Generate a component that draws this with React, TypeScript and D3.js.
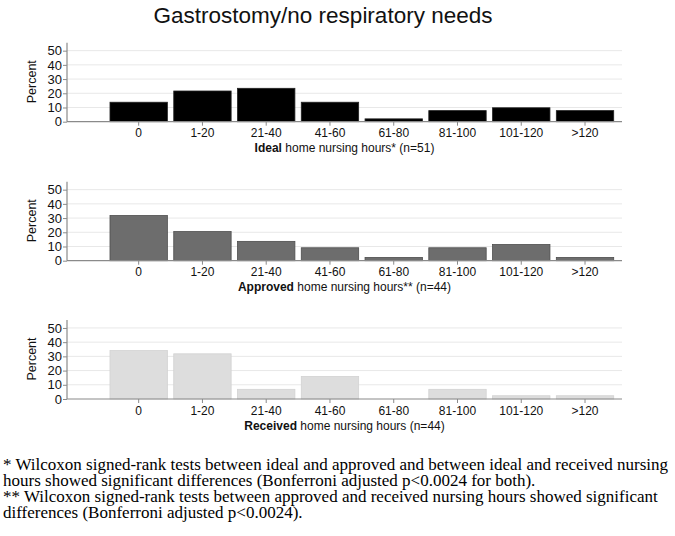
import { useEffect, useRef } from 'react'
import * as d3 from 'd3'

const categories = ['0', '1-20', '21-40', '41-60', '61-80', '81-100', '101-120', '>120']
const idealPct = [13.7, 21.6, 23.5, 13.7, 2.0, 7.8, 9.8, 7.8]
const approvedPct = [31.8, 20.5, 13.6, 9.1, 2.3, 9.1, 11.4, 2.3]
const receivedPct = [34.1, 31.8, 6.8, 15.9, 0, 6.8, 2.3, 2.3]
const yTicks = [0, 10, 20, 30, 40, 50]

const panelTitles = [
  { bold: 'Ideal', rest: ' home nursing hours* (n=51)' },
  { bold: 'Approved', rest: ' home nursing hours** (n=44)' },
  { bold: 'Received', rest: ' home nursing hours (n=44)' },
]
const footnotes = [
  '* Wilcoxon signed-rank tests between ideal and approved and between ideal and received nursing',
  'hours showed significant differences (Bonferroni adjusted p<0.0024 for both).',
  '** Wilcoxon signed-rank tests between approved and received nursing hours showed significant',
  'differences (Bonferroni adjusted p<0.0024).',
]

export default function App() {
  const svgRef = useRef<SVGSVGElement>(null)

  useEffect(() => {
    if (!svgRef.current) return
    const svg = d3.select(svgRef.current)
    svg.selectAll('*').remove()

    const width = 675
    const height = 536
    const axisLeft = 67
    const axisRight = 622
    const plotH = 79
    const zeros = [121.7, 260.7, 399]
    const sans = '"Liberation Sans", Arial, sans-serif'

    svg.append('rect').attr('width', width).attr('height', height).attr('fill', '#fff')

    svg.append('text')
      .attr('x', 323)
      .attr('y', 23)
      .attr('text-anchor', 'middle')
      .attr('font-family', sans)
      .attr('font-size', 22.5)
      .attr('fill', '#111')
      .text('Gastrostomy/no respiratory needs')

    const x = d3.scaleBand<string>()
      .domain(categories)
      .range([106.8, 616.9])
      .paddingInner(0.1)
      .paddingOuter(0.05)

    const panels = [
      { values: idealPct, fill: '#000000', stroke: '#222222' },
      { values: approvedPct, fill: '#6d6d6d', stroke: '#4e4e4e' },
      { values: receivedPct, fill: '#dddddd', stroke: '#d2d2d2' },
    ]

    panels.forEach((p, pi) => {
      const zero = zeros[pi]
      const y = d3.scaleLinear().domain([0, 55.6]).range([zero, zero - plotH])
      const g = svg.append('g')

      // gridlines
      g.selectAll('line.grid')
        .data(yTicks.filter(t => t > 0))
        .join('line')
        .attr('class', 'grid')
        .attr('x1', axisLeft)
        .attr('x2', axisRight)
        .attr('y1', d => y(d))
        .attr('y2', d => y(d))
        .attr('stroke', '#e8e8e8')
        .attr('stroke-width', 1)

      // bars
      g.selectAll('rect.bar')
        .data(p.values.map((v, i) => ({ v, c: categories[i] })).filter(d => d.v > 0))
        .join('rect')
        .attr('class', 'bar')
        .attr('x', d => x(d.c)!)
        .attr('width', x.bandwidth())
        .attr('y', d => y(d.v))
        .attr('height', d => zero - y(d.v))
        .attr('fill', p.fill)
        .attr('stroke', p.stroke)
        .attr('stroke-width', 0.8)

      // axis lines
      g.append('line')
        .attr('x1', axisLeft).attr('x2', axisRight)
        .attr('y1', zero).attr('y2', zero)
        .attr('stroke', '#8a8a8a').attr('stroke-width', 1.2)
      g.append('line')
        .attr('x1', axisLeft).attr('x2', axisLeft)
        .attr('y1', zero).attr('y2', zero - plotH)
        .attr('stroke', '#8a8a8a').attr('stroke-width', 1.2)

      // y axis ticks
      g.append('g')
        .attr('transform', `translate(${axisLeft},0)`)
        .call(d3.axisLeft(y).tickValues(yTicks).tickSize(4).tickPadding(1))
        .call(a => a.select('.domain').remove())
        .call(a => a.selectAll('.tick line').attr('stroke', '#8a8a8a'))
        .call(a => a.selectAll('.tick text')
          .attr('fill', '#111')
          .attr('font-family', sans)
          .attr('font-size', 13))

      // x axis ticks
      g.append('g')
        .attr('transform', `translate(0,${zero})`)
        .call(d3.axisBottom(x).tickSize(4).tickPadding(3))
        .call(a => a.select('.domain').remove())
        .call(a => a.selectAll('.tick line').attr('stroke', '#8a8a8a'))
        .call(a => a.selectAll('.tick text')
          .attr('fill', '#111')
          .attr('font-family', sans)
          .attr('font-size', 12))

      // y label
      g.append('text')
        .attr('transform', `translate(36,${zero - 40}) rotate(-90)`)
        .attr('text-anchor', 'middle')
        .attr('font-family', sans)
        .attr('font-size', 12.5)
        .attr('fill', '#111')
        .text('Percent')

      // x title
      const t = g.append('text')
        .attr('x', (axisLeft + axisRight) / 2)
        .attr('y', zero + 30.5)
        .attr('text-anchor', 'middle')
        .attr('font-family', sans)
        .attr('font-size', 12)
        .attr('fill', '#111')
      t.append('tspan').attr('font-weight', 'bold').text(panelTitles[pi].bold)
      t.append('tspan').text(panelTitles[pi].rest)
    })

    svg.selectAll('text.note')
      .data(footnotes)
      .join('text')
      .attr('class', 'note')
      .attr('x', 3)
      .attr('y', (d, i) => 469.5 + i * 16.3)
      .attr('font-family', '"Liberation Serif", "Times New Roman", serif')
      .attr('font-size', 17)
      .attr('fill', '#000')
      .text(d => d)
  }, [])

  return (
    <svg
      ref={svgRef}
      width={675}
      height={536}
      style={{ position: 'absolute', left: 0, top: 0 }}
    />
  )
}
